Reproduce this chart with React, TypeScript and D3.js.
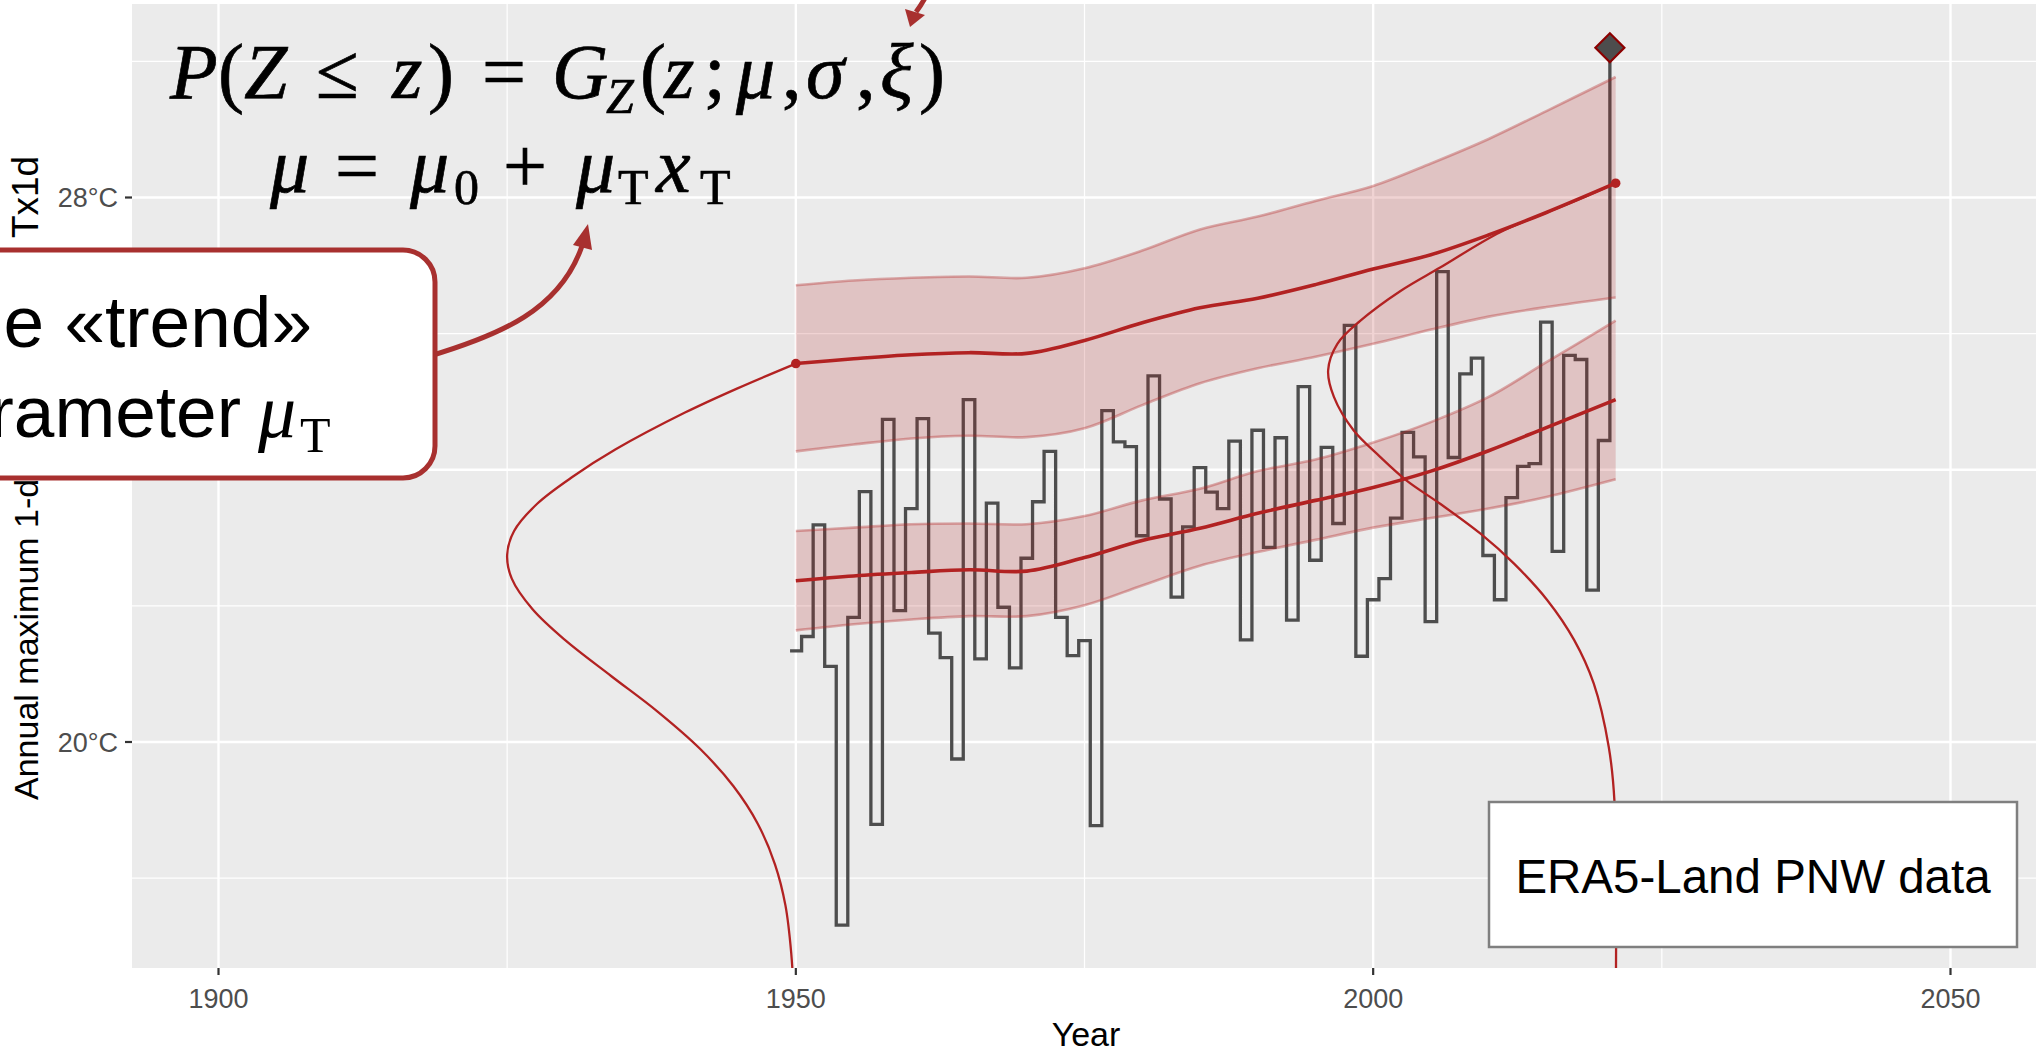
import { useEffect, useRef } from "react";
import * as d3 from "d3";

const width = 2036;
const height = 1053;

// annual maximum 1-day temperature, 1950-2021 (°C)
const years = d3.range(1950, 2022);
const tx1d = [
  21.34, 21.55, 23.19, 21.11, 17.31, 21.83, 23.68, 18.79, 24.74, 21.93,
  23.43, 24.75, 21.6, 21.24, 19.75, 25.03, 21.22, 23.51, 21.98, 21.09,
  22.7, 23.53, 24.27, 21.83, 21.27, 21.49, 18.77, 24.87, 24.41, 24.34,
  23.03, 25.38, 23.57, 22.13, 23.16, 24.03, 23.67, 23.43, 24.42, 21.5,
  24.58, 22.86, 24.47, 21.79, 25.22, 22.67, 24.33, 23.21, 26.12, 21.26,
  22.09, 22.4, 23.29, 24.55, 24.19, 21.77, 26.91, 24.18, 25.41, 25.64,
  22.74, 22.09, 23.59, 24.05, 24.09, 26.17, 22.8, 25.68, 25.62, 22.23,
  24.43, 30.2,
];

// fitted bands (mean line + interval)
const bandYears = [1950, 1955, 1960, 1965, 1970, 1975, 1980, 1985, 1990, 1995, 2000, 2005, 2010, 2015, 2021];
const upperMid = [25.56, 25.63, 25.69, 25.72, 25.71, 25.9, 26.16, 26.38, 26.52, 26.72, 26.95, 27.16, 27.45, 27.78, 28.21];
const upperHi = [26.71, 26.78, 26.82, 26.84, 26.82, 26.96, 27.22, 27.53, 27.72, 27.95, 28.17, 28.5, 28.86, 29.27, 29.77];
const upperLo = [24.27, 24.37, 24.46, 24.5, 24.48, 24.61, 24.95, 25.27, 25.49, 25.66, 25.85, 26.06, 26.25, 26.39, 26.53];
const lowerMid = [22.37, 22.44, 22.49, 22.53, 22.51, 22.71, 22.96, 23.14, 23.36, 23.55, 23.74, 23.98, 24.28, 24.62, 25.03];
const lowerHi = [23.1, 23.15, 23.2, 23.21, 23.2, 23.32, 23.55, 23.72, 23.98, 24.15, 24.4, 24.7, 25.07, 25.58, 26.19];
const lowerLo = [21.64, 21.73, 21.8, 21.85, 21.85, 22.01, 22.3, 22.59, 22.79, 22.97, 23.15, 23.29, 23.43, 23.6, 23.86];

// GEV densities drawn sideways: [temperature, offset to the left in years]
const gev1950: [number, number][] = [
  [25.56, 0], [25.2, 5.0], [24.84, 9.6], [24.3, 15.6], [23.9, 19.3], [23.5, 22.4],
  [23.1, 24.4], [22.75, 25.0], [22.4, 24.6], [21.95, 22.8], [21.5, 20.0], [20.97, 16.0],
  [20.45, 12.0], [19.9, 8.3], [19.35, 5.4], [18.8, 3.3], [18.2, 1.8], [17.6, 0.9],
  [16.9, 0.4], [16.0, 0.1],
];
const gev2021: [number, number][] = [
  [28.21, 0], [27.9, 4.2], [27.49, 10.0], [26.97, 15.2], [26.63, 18.6], [26.19, 22.1],
  [25.85, 24.1], [25.46, 24.9], [25.07, 24.4], [24.58, 22.7], [24.19, 20.4], [23.84, 18.1],
  [23.5, 15.2], [23.06, 11.7], [22.62, 8.8], [22.08, 5.9], [21.5, 3.6], [20.86, 1.9],
  [19.93, 0.6], [19.12, 0.1], [16.0, 0],
];

const xTicks = [1900, 1950, 2000, 2050];
const xMinor = [1925, 1975, 2025];
const yTicks = [20, 24, 28];
const yTickLabels = ["20°C", "24°C", "28°C"];
const yMinor = [18, 22, 26, 30];

const red = "#b22222";
const sans = "'Liberation Sans', Arial, sans-serif";
const serif = "'Liberation Serif', 'Times New Roman', serif";

// glyphs of the two formula lines: [text, x, italic, subscript]
const formula1: [string, number, boolean, boolean][] = [
  ["P", 170, true, false], ["(", 218, false, false], ["Z", 244, true, false], ["≤", 316, false, false],
  ["z", 392, true, false], [")", 428, false, false], ["=", 482, false, false], ["G", 552, true, false],
  ["Z", 606, true, true], ["(", 640, false, false], ["z", 664, true, false], [";", 704, false, false],
  ["μ", 736, true, false], [",", 782, false, false], ["σ", 806, true, false], [",", 856, false, false],
  ["ξ", 880, true, false], [")", 919, false, false],
];
const formula2: [string, number, boolean, boolean][] = [
  ["μ", 270, true, false], ["=", 335, false, false], ["μ", 410, true, false], ["0", 454, false, true],
  ["+", 503, false, false], ["μ", 576, true, false], ["T", 618, false, true], ["x", 656, true, false],
  ["T", 700, false, true],
];

const App = () => {
  const svgRef = useRef<SVGSVGElement>(null);

  useEffect(() => {
    const svg = d3.select(svgRef.current);
    svg.selectAll("*").remove();

    const panel = { left: 132, top: 4, right: 2040, bottom: 968 };
    const x = d3.scaleLinear().domain([1900, 2050]).range([218.5, 1950.5]);
    const y = d3.scaleLinear().domain([20, 28]).range([742, 197.5]);

    svg.append("rect").attr("width", width).attr("height", height).attr("fill", "#fff");

    // panel background + grid
    svg
      .append("rect")
      .attr("x", panel.left)
      .attr("y", panel.top)
      .attr("width", panel.right - panel.left)
      .attr("height", panel.bottom - panel.top)
      .attr("fill", "#ebebeb");

    const grid = svg.append("g").attr("stroke", "#fff");
    xMinor.forEach((t) =>
      grid.append("line").attr("x1", x(t)).attr("x2", x(t)).attr("y1", panel.top).attr("y2", panel.bottom).attr("stroke-width", 1.2)
    );
    yMinor.forEach((t) =>
      grid.append("line").attr("x1", panel.left).attr("x2", panel.right).attr("y1", y(t)).attr("y2", y(t)).attr("stroke-width", 1.2)
    );
    xTicks.forEach((t) =>
      grid.append("line").attr("x1", x(t)).attr("x2", x(t)).attr("y1", panel.top).attr("y2", panel.bottom).attr("stroke-width", 2.4)
    );
    yTicks.forEach((t) =>
      grid.append("line").attr("x1", panel.left).attr("x2", panel.right).attr("y1", y(t)).attr("y2", y(t)).attr("stroke-width", 2.4)
    );

    svg
      .append("clipPath")
      .attr("id", "panel-clip")
      .append("rect")
      .attr("x", panel.left)
      .attr("y", panel.top)
      .attr("width", panel.right - panel.left)
      .attr("height", panel.bottom - panel.top);

    const g = svg.append("g").attr("clip-path", "url(#panel-clip)");

    // observed series as steps centred on each year
    const stepPts: [number, number][] = years.map((yr, i) => [yr - 0.5, tx1d[i]]);
    const step = d3
      .line<[number, number]>()
      .x((d) => x(d[0]))
      .y((d) => y(d[1]))
      .curve(d3.curveStepAfter);
    g.append("path")
      .attr("d", step(stepPts))
      .attr("fill", "none")
      .attr("stroke", "#4d4d4d")
      .attr("stroke-width", 3.3);

    // ribbons
    const bands = [
      { mid: upperMid, hi: upperHi, lo: upperLo },
      { mid: lowerMid, hi: lowerHi, lo: lowerLo },
    ];
    const area = d3
      .area<number>()
      .x((_, i) => x(bandYears[i]))
      .curve(d3.curveCatmullRom);
    const bandLine = (vals: number[]) =>
      d3
        .line<number>()
        .x((_, i) => x(bandYears[i]))
        .y((d) => y(d))
        .curve(d3.curveCatmullRom)(vals);

    bands.forEach((b) => {
      g.append("path")
        .attr("d", area.y0((_, i) => y(b.lo[i])).y1((_, i) => y(b.hi[i]))(b.mid))
        .attr("fill", red)
        .attr("fill-opacity", 0.2);
      [b.hi, b.lo].forEach((vals) =>
        g.append("path")
          .attr("d", bandLine(vals))
          .attr("fill", "none")
          .attr("stroke", red)
          .attr("stroke-opacity", 0.35)
          .attr("stroke-width", 2.6)
      );
      g.append("path")
        .attr("d", bandLine(b.mid))
        .attr("fill", "none")
        .attr("stroke", red)
        .attr("stroke-width", 3.6);
    });

    // sideways densities
    const density = (base: number) =>
      d3
        .line<[number, number]>()
        .x((d) => x(base - d[1]))
        .y((d) => y(d[0]))
        .curve(d3.curveCatmullRom.alpha(0.5));
    [
      { base: 1950, pts: gev1950 },
      { base: 2021, pts: gev2021 },
    ].forEach((c) =>
      g.append("path")
        .attr("d", density(c.base)(c.pts))
        .attr("fill", "none")
        .attr("stroke", red)
        .attr("stroke-width", 2.3)
    );

    g.selectAll("circle.end")
      .data([0, bandYears.length - 1])
      .enter()
      .append("circle")
      .attr("cx", (i) => x(bandYears[i]))
      .attr("cy", (i) => y(upperMid[i]))
      .attr("r", 4.8)
      .attr("fill", red);

    // 2021 record
    const last = stepPts[stepPts.length - 1];
    const dx = x(last[0]);
    const dy = y(last[1]);
    const s = 14.5;
    g.append("path")
      .attr("d", `M${dx},${dy - s}L${dx + s},${dy}L${dx},${dy + s}L${dx - s},${dy}Z`)
      .attr("fill", "#4d4d4d")
      .attr("stroke", "#8b0000")
      .attr("stroke-width", 2.2);

    // axes
    const axes = svg.append("g").attr("font-family", sans);
    xTicks.forEach((t) => {
      axes.append("line").attr("x1", x(t)).attr("x2", x(t)).attr("y1", panel.bottom).attr("y2", panel.bottom + 7)
        .attr("stroke", "#333").attr("stroke-width", 2.2);
      axes.append("text").attr("x", x(t)).attr("y", 1008).attr("text-anchor", "middle")
        .attr("font-size", 27).attr("fill", "#4d4d4d").text(t);
    });
    yTicks.forEach((t, i) => {
      axes.append("line").attr("x1", panel.left - 7).attr("x2", panel.left).attr("y1", y(t)).attr("y2", y(t))
        .attr("stroke", "#333").attr("stroke-width", 2.2);
      axes.append("text").attr("x", 118).attr("y", y(t) + 9.7).attr("text-anchor", "end")
        .attr("font-size", 27).attr("fill", "#4d4d4d").text(yTickLabels[i]);
    });
    axes.append("text").attr("x", 1086).attr("y", 1046).attr("text-anchor", "middle")
      .attr("font-size", 34).attr("fill", "#000").text("Year");
    const ytitle = axes.append("text")
      .attr("transform", "translate(38,800) rotate(-90)")
      .attr("text-anchor", "start")
      .attr("font-size", 34)
      .attr("fill", "#000");
    ytitle.append("tspan").text("Annual maximum 1-day temperature");
    ytitle.append("tspan").attr("dx", 12).attr("font-size", 37).text("Tx1d");

    // formula
    const drawGlyphs = (glyphs: [string, number, boolean, boolean][], base: number, subBase: number) => {
      const f = svg.append("g").attr("font-family", serif).attr("fill", "#000")
        .attr("stroke", "#000").attr("stroke-width", 0.7);
      glyphs.forEach(([t, gx, it, sub]) =>
        f.append("text")
          .attr("x", gx)
          .attr("y", sub ? subBase : base)
          .attr("font-size", sub ? 50 : 78)
          .attr("font-style", it ? "italic" : "normal")
          .text(t)
      );
    };
    drawGlyphs(formula1, 98, 113);
    drawGlyphs(formula2, 192, 204);

    // arrows
    const arrowCol = "#a8302f";
    svg.append("path").attr("d", "M926,-4 Q922,4 916,12").attr("fill", "none").attr("stroke", arrowCol).attr("stroke-width", 5);
    svg.append("path").attr("d", "M905,9 L925,15 L910,27 Z").attr("fill", arrowCol);

    svg.append("path")
      .attr("d", "M430,356 C500,335 560,310 582,246")
      .attr("fill", "none")
      .attr("stroke", arrowCol)
      .attr("stroke-width", 5);
    svg.append("path").attr("d", "M573,245 L592,250 L588,224 Z").attr("fill", arrowCol);

    // callout box
    svg.append("rect")
      .attr("x", -300).attr("y", 250).attr("width", 735).attr("height", 228).attr("rx", 32)
      .attr("fill", "#fff").attr("stroke", arrowCol).attr("stroke-width", 5);
    svg.append("text").attr("x", 312).attr("y", 347).attr("text-anchor", "end")
      .attr("font-family", sans).attr("font-size", 73).attr("fill", "#000").text("The «trend»");
    svg.append("text").attr("x", 241).attr("y", 437).attr("text-anchor", "end")
      .attr("font-family", sans).attr("font-size", 73).attr("fill", "#000").text("parameter");
    svg.append("text").attr("x", 258).attr("y", 437).attr("font-family", serif).attr("font-style", "italic")
      .attr("font-size", 76).attr("fill", "#000").text("μ");
    svg.append("text").attr("x", 300).attr("y", 452).attr("font-family", serif)
      .attr("font-size", 50).attr("fill", "#000").text("T");

    // data source box
    svg.append("rect")
      .attr("x", 1489).attr("y", 802).attr("width", 528).attr("height", 145)
      .attr("fill", "#fff").attr("stroke", "#7f7f7f").attr("stroke-width", 2.5);
    svg.append("text").attr("x", 1753).attr("y", 893).attr("text-anchor", "middle")
      .attr("font-family", sans).attr("font-size", 47.5).attr("fill", "#000").text("ERA5-Land PNW data");
  }, []);

  return (
    <svg
      ref={svgRef}
      width={width}
      height={height}
      style={{ position: "absolute", left: 0, top: 0, display: "block" }}
    ></svg>
  );
};

export default App;
